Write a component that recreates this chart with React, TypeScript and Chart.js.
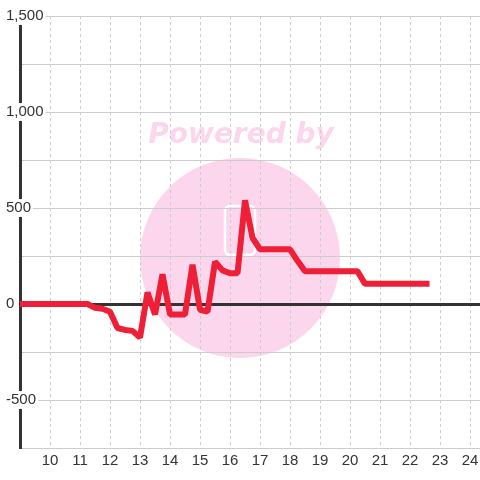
import { useEffect, useRef } from 'react';
import { Chart, registerables } from 'chart.js';

Chart.register(...registerables);

// Hour of day (x) and value (y)
const hours = [8.75, 11.25, 11.5, 11.75, 12, 12.25, 12.5, 12.75, 13, 13.25, 13.5, 13.75, 14, 14.25, 14.5, 14.75, 15, 15.25, 15.5, 15.75, 16, 16.25, 16.5, 16.75, 17, 17.5, 18, 18.25, 18.5, 19, 19.5, 20, 20.25, 20.5, 21, 21.5, 22, 22.65];
const values = [0, 0, -20, -25, -40, -125, -135, -140, -175, 60, -55, 155, -55, -55, -55, 205, -30, -40, 220, 175, 160, 160, 540, 345, 285, 285, 285, 225, 170, 170, 170, 170, 170, 105, 105, 105, 105, 105];

const xMin = 9;
const xMax = 24.333;
const xHiddenLabels = [9];
const yMin = -750;
const yMax = 1500;
const yStep = 250;
const yLabelEvery = 500;
const watermarkText = 'Powered by';

const watermark = {
  id: 'watermark',
  beforeDraw(chart: any) {
    const ctx = chart.ctx;
    ctx.save();
    ctx.fillStyle = '#fcd6ec';
    ctx.beginPath();
    ctx.arc(240, 258, 100, 0, Math.PI * 2);
    ctx.fill();
    ctx.font = 'italic bold 28px "DejaVu Sans"';
    ctx.textAlign = 'center';
    ctx.textBaseline = 'alphabetic';
    ctx.fillText(watermarkText, 241, 143);
    ctx.strokeStyle = '#ffffff';
    ctx.lineWidth = 2.5;
    ctx.beginPath();
    if (ctx.roundRect) {
      ctx.roundRect(225, 206, 30, 49, 5);
    } else {
      ctx.rect(225, 206, 30, 49);
    }
    ctx.stroke();
    ctx.restore();
  },
};

export default function App() {
  const ref = useRef<HTMLCanvasElement | null>(null);

  useEffect(() => {
    document.body.style.margin = '0';
    const canvas = ref.current;
    if (!canvas) return;
    Chart.defaults.font.family = '"Liberation Sans", Arial, sans-serif';
    Chart.defaults.font.size = 15;
    Chart.defaults.color = '#333';

    const chart = new Chart(canvas, {
      type: 'line',
      data: {
        datasets: [
          {
            data: hours.map((h, i) => ({ x: h, y: values[i] })),
            borderColor: '#ee1f36',
            borderWidth: 6,
            borderJoinStyle: 'bevel',
            pointRadius: 0,
            pointHoverRadius: 0,
            tension: 0,
            fill: false,
          },
        ],
      },
      options: {
        responsive: false,
        animation: false,
        layout: { padding: { top: 16, right: 0, bottom: 6, left: 0 } },
        plugins: {
          legend: { display: false },
          tooltip: { enabled: false },
        },
        scales: {
          x: {
            type: 'linear',
            min: xMin,
            max: xMax,
            afterFit: (s: any) => {
              s.paddingLeft = 0;
              s.paddingRight = 0;
            },
            border: { color: '#cccccc', width: 1, dash: [3, 3] },
            grid: { color: '#cccccc', lineWidth: 1, drawTicks: false },
            ticks: {
              stepSize: 1,
              includeBounds: false,
              autoSkip: false,
              maxRotation: 0,
              minRotation: 0,
              padding: 4,
              color: '#333',
              font: { size: 15 },
              callback: (v: any) => (xHiddenLabels.includes(v) ? '' : String(v)),
            },
          },
          y: {
            type: 'linear',
            min: yMin,
            max: yMax,
            afterFit: (s: any) => {
              s.width = 20;
            },
            border: { color: '#333333', width: 3 },
            grid: {
              color: (c: any) => (c.tick && c.tick.value === 0 ? '#333333' : '#cccccc'),
              lineWidth: (c: any) => (c.tick && c.tick.value === 0 ? 3 : 1),
              drawTicks: false,
            },
            ticks: {
              stepSize: yStep,
              mirror: true,
              crossAlign: 'near',
              padding: -14,
              showLabelBackdrop: true,
              backdropColor: '#ffffff',
              backdropPadding: { top: 0, bottom: 0, left: 0, right: 2 },
              color: '#333',
              font: { size: 15 },
              callback: (v: any) => (v % yLabelEvery === 0 ? Number(v).toLocaleString('en-US') : ''),
            },
          },
        },
      } as any,
      plugins: [watermark],
    });

    return () => chart.destroy();
  }, []);

  return (
    <div style={{ width: 480, height: 480 }}>
      <canvas ref={ref} width={480} height={480} />
    </div>
  );
}
